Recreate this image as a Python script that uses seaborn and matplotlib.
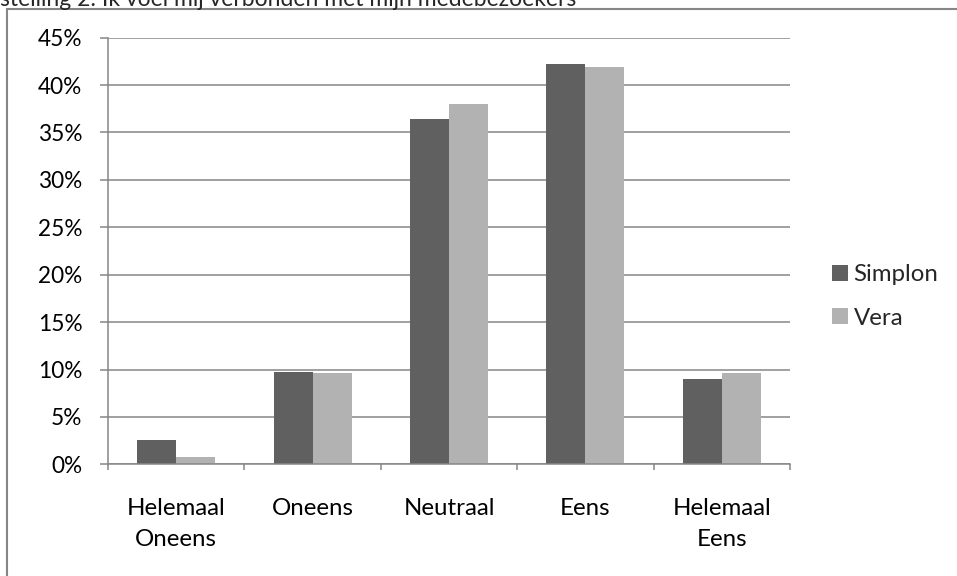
import pandas as pd
import numpy as np
import seaborn as sns
import matplotlib.pyplot as plt
from matplotlib.ticker import PercentFormatter, FixedLocator
from matplotlib.lines import Line2D

# Data
categories = ['Helemaal\nOneens', 'Oneens', 'Neutraal', 'Eens', 'Helemaal\nEens']
simplon = [0.026, 0.097, 0.364, 0.422, 0.090]
vera = [0.008, 0.096, 0.380, 0.419, 0.096]
series = ['Simplon', 'Vera']
title = 'stelling 2: Ik voel mij verbonden met mijn medebezoekers'

df = pd.DataFrame({
    'categorie': categories * 2,
    'aandeel': simplon + vera,
    'groep': [series[0]] * len(categories) + [series[1]] * len(categories),
})

sns.set_theme(style='white')
plt.rcParams['font.family'] = ['Lato', 'DejaVu Sans']
grey = '#868686'
fs = 17.3

fig = plt.figure(figsize=(9.57, 5.76), dpi=100)
ax = fig.add_axes([108 / 957, 1 - 464.3 / 576, 682 / 957, (464.3 - 37.7) / 576])

sns.barplot(data=df, x='categorie', y='aandeel', hue='groep', order=categories,
            palette=['#606060', '#b2b2b2'], width=0.572, linewidth=0, ax=ax)

ax.set_ylim(0, 0.45)
ax.set_xlim(-0.5, len(categories) - 0.5)
ax.set_yticks(np.arange(0, 0.451, 0.05))
ax.yaxis.set_major_formatter(PercentFormatter(1.0, decimals=0))
ax.yaxis.grid(True, color=grey, linewidth=1.1)
ax.set_axisbelow(True)
ax.set_xlabel('')
ax.set_ylabel('')

for side in ['top', 'right']:
    ax.spines[side].set_visible(False)
for side in ['left', 'bottom']:
    ax.spines[side].set_color(grey)
    ax.spines[side].set_linewidth(1.1)

ax.tick_params(axis='y', left=True, length=5.5, width=1.1, color=grey,
               pad=13, labelsize=16.3, labelcolor='black')
ax.tick_params(axis='x', which='major', bottom=False, length=0, pad=24.5,
               labelsize=fs, labelcolor='black')
ax.xaxis.set_minor_locator(FixedLocator(np.arange(-0.5, len(categories), 1.0)))
ax.tick_params(axis='x', which='minor', bottom=True, length=4.5, width=1.1, color=grey)
for lab in ax.get_xticklabels():
    lab.set_linespacing(1.55)

ax.legend(loc='center left', bbox_to_anchor=(832 / 957, 1 - 296.5 / 576),
          bbox_transform=fig.transFigure, frameon=False, fontsize=fs,
          handlelength=0.65, handleheight=0.65, handletextpad=0.25,
          labelspacing=0.95, borderpad=0, borderaxespad=0)

# chart frame and the clipped title from the original screenshot
fig.add_artist(Line2D([7.5 / 957, 7.5 / 957], [0, 1 - 8.5 / 576], color=grey, linewidth=1.5))
fig.add_artist(Line2D([7.5 / 957, 1], [1 - 8.5 / 576, 1 - 8.5 / 576], color=grey, linewidth=1.5))
fig.text(0.0, 1 - 6 / 576, title, fontsize=16.5, va='baseline', ha='left')

fig.savefig('out.png', dpi=100)
